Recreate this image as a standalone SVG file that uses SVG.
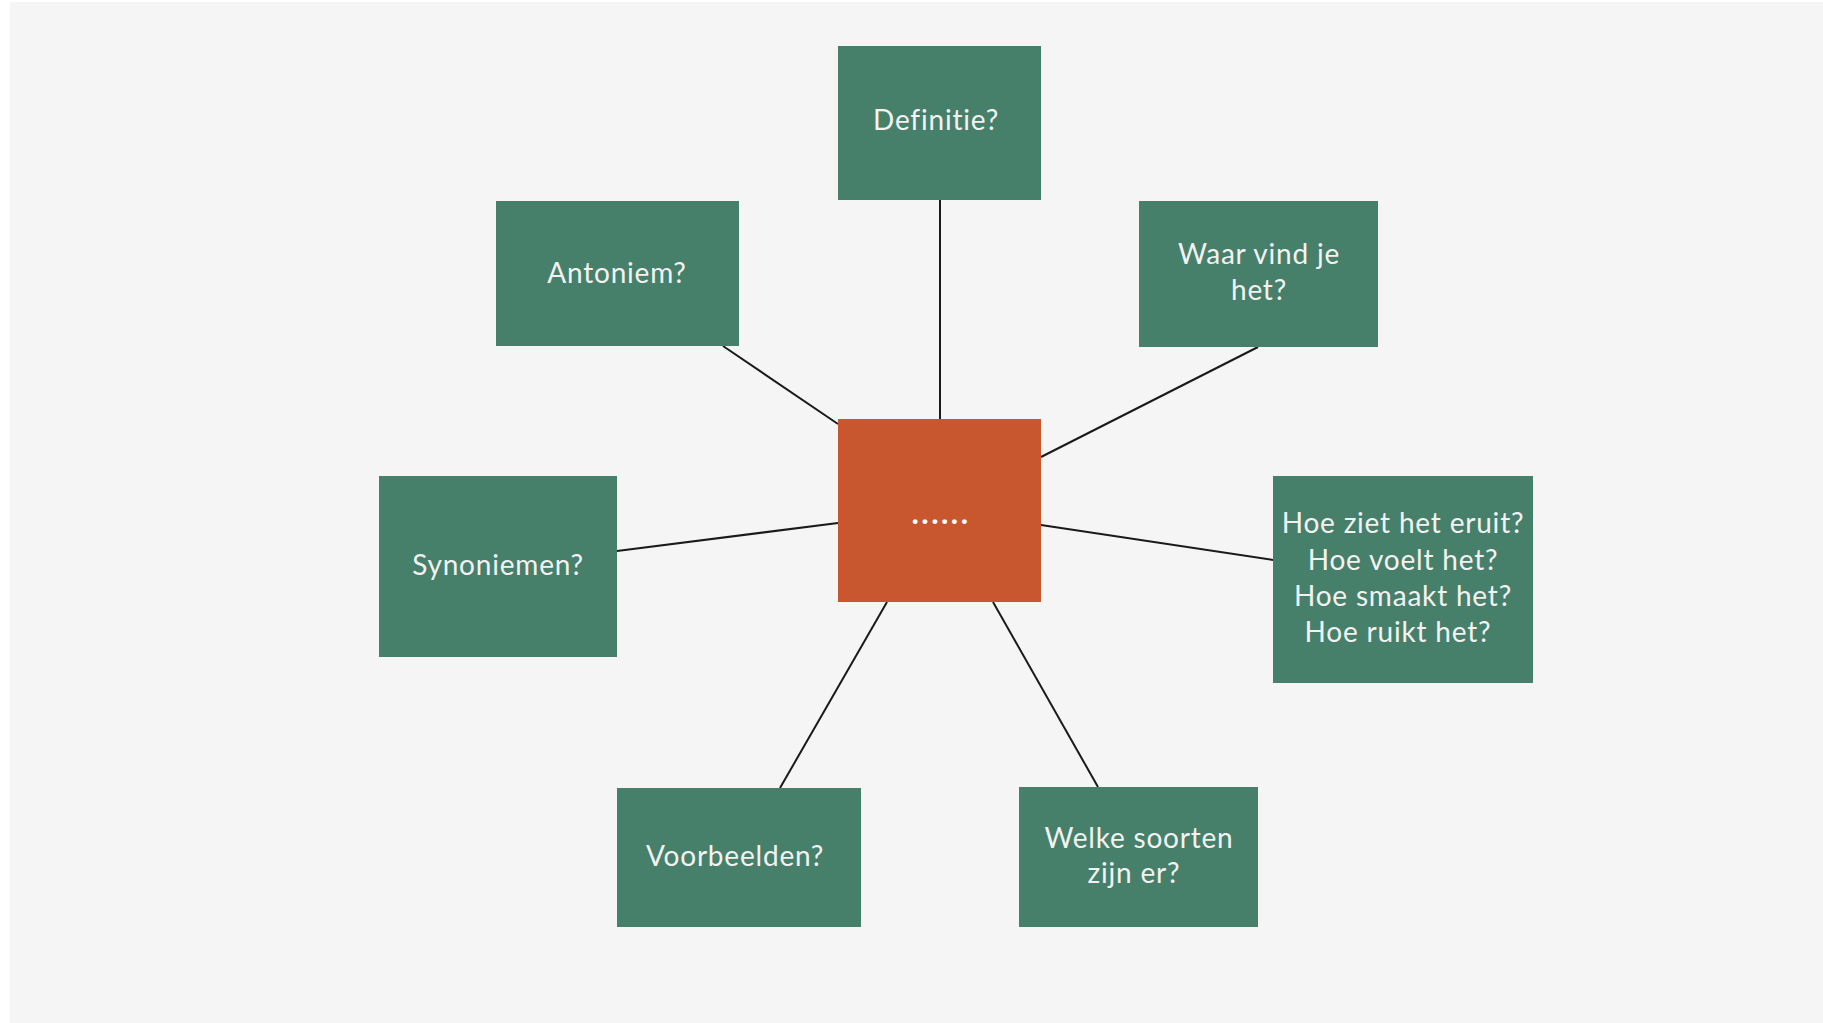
<svg xmlns="http://www.w3.org/2000/svg" width="1823" height="1023" viewBox="0 0 1823 1023">
<style>
.box{fill:#47806A}
.center{fill:#C8572F}
.lbl{font-family:Lato,"Noto Sans",sans-serif;font-size:28px;letter-spacing:0.8px;fill:#F2F2F2;text-anchor:middle}
.edge{stroke:#1a1a1a;stroke-width:2;fill:none}
</style>
<rect x="0" y="0" width="1823" height="1023" fill="#ffffff"/>
<rect x="10" y="2" width="1813" height="1021" fill="#F5F5F5"/>
<g id="connectors">
<line class="edge" x1="940" y1="200" x2="940" y2="419"/>
<line class="edge" x1="723" y1="346" x2="838" y2="424"/>
<line class="edge" x1="1258" y1="347" x2="1041" y2="457"/>
<line class="edge" x1="617" y1="551" x2="838" y2="523"/>
<line class="edge" x1="1041" y1="525" x2="1273" y2="560"/>
<line class="edge" x1="780" y1="788" x2="887" y2="602"/>
<line class="edge" x1="1098" y1="787" x2="993" y2="602"/>
</g>
<g id="node-center">
<rect class="center" x="838" y="419" width="203" height="183"/>
<text class="lbl" x="941" y="524" style="font-size:31px;font-weight:bold;letter-spacing:2.5px;fill:#FFFFFF">......</text>
</g>
<g id="node-definitie">
<rect class="box" x="838" y="46" width="203" height="154"/>
<text class="lbl" x="936" y="130">Definitie?</text>
</g>
<g id="node-antoniem">
<rect class="box" x="496" y="201" width="243" height="145"/>
<text class="lbl" x="617" y="283">Antoniem?</text>
</g>
<g id="node-waar">
<rect class="box" x="1139" y="201" width="239" height="146"/>
<text class="lbl" x="1259" y="264">Waar vind je</text>
<text class="lbl" x="1259" y="300">het?</text>
</g>
<g id="node-synoniemen">
<rect class="box" x="379" y="476" width="238" height="181"/>
<text class="lbl" x="498" y="575">Synoniemen?</text>
</g>
<g id="node-hoe">
<rect class="box" x="1273" y="476" width="260" height="207"/>
<text class="lbl" x="1403" y="533">Hoe ziet het eruit?</text>
<text class="lbl" x="1403" y="570">Hoe voelt het?</text>
<text class="lbl" x="1403" y="606">Hoe smaakt het?</text>
<text class="lbl" x="1398" y="642">Hoe ruikt het?</text>
</g>
<g id="node-voorbeelden">
<rect class="box" x="617" y="788" width="244" height="139"/>
<text class="lbl" x="735" y="866">Voorbeelden?</text>
</g>
<g id="node-welke">
<rect class="box" x="1019" y="787" width="239" height="140"/>
<text class="lbl" x="1139" y="848">Welke soorten</text>
<text class="lbl" x="1134" y="883">zijn er?</text>
</g>
</svg>
